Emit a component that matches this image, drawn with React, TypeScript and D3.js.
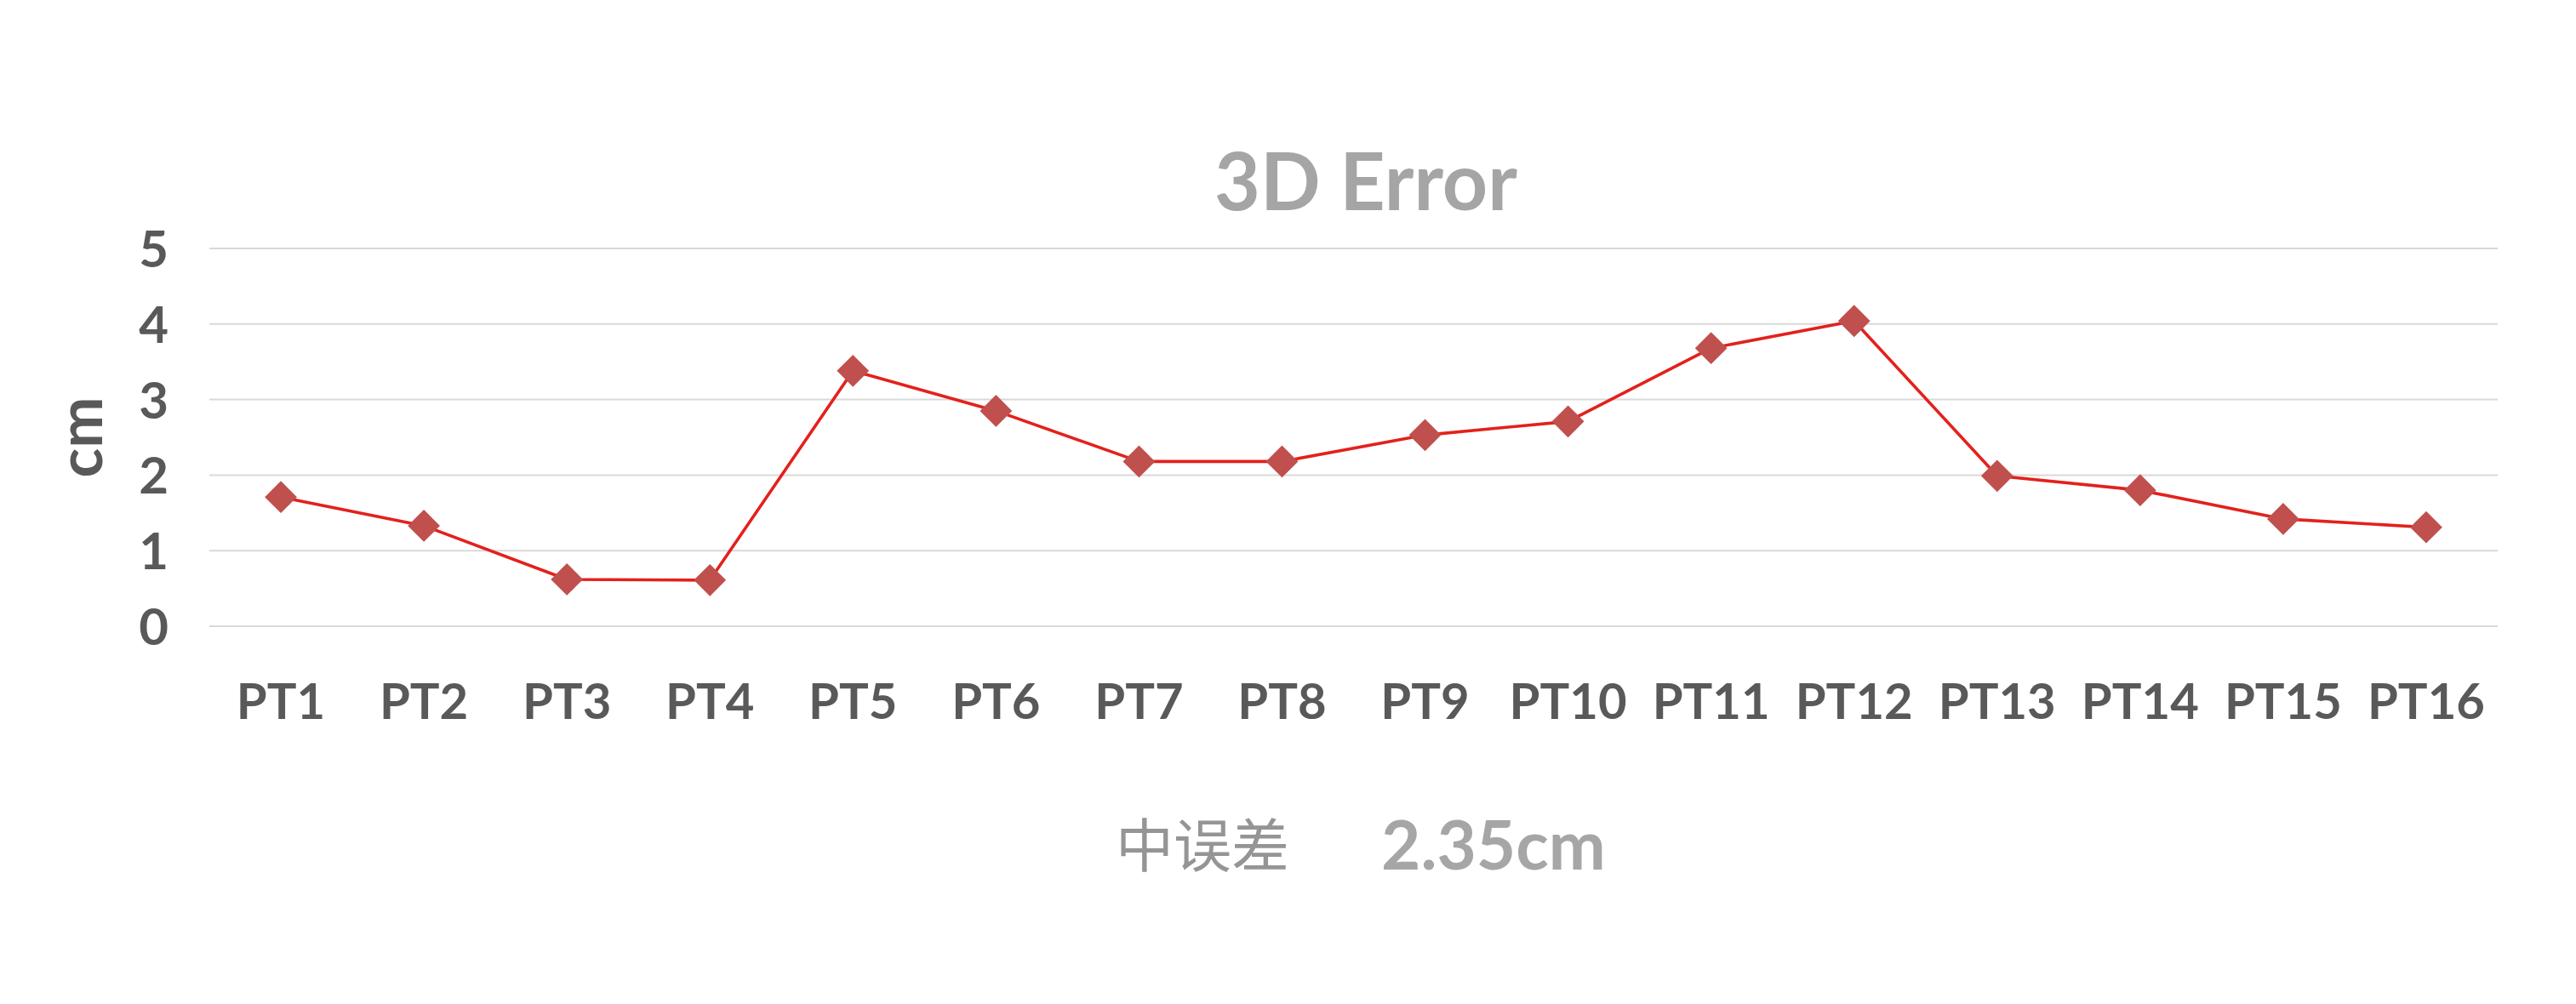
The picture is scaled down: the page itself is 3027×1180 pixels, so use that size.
import React from 'react';
import * as d3 from 'd3';

const categories = ['PT1', 'PT2', 'PT3', 'PT4', 'PT5', 'PT6', 'PT7', 'PT8', 'PT9', 'PT10', 'PT11', 'PT12', 'PT13', 'PT14', 'PT15', 'PT16'];
const errorValues = [1.71, 1.33, 0.62, 0.61, 3.38, 2.85, 2.18, 2.18, 2.53, 2.71, 3.68, 4.04, 1.99, 1.8, 1.42, 1.31];
const yTicks = [0, 1, 2, 3, 4, 5];
const titleText = '3D Error';
const yAxisTitle = 'cm';
const footerLabel = '中误差';
const footerValue = '2.35cm';

const W = 3027;
const H = 1180;
const latin = 'Lato, "Open Sans", sans-serif';
const cjk = '"Noto Sans CJK SC", sans-serif';

export default function App() {
  const x = d3.scaleBand<string>().domain(categories).range([246, 2935]);
  const y = d3.scaleLinear().domain([0, 5]).range([736, 292]);
  const cx = (c: string) => (x(c) ?? 0) + x.bandwidth() / 2;

  const points = categories.map((c, i) => [cx(c), y(errorValues[i])] as [number, number]);
  const linePath = d3.line()(points) ?? '';
  // rotated square, ~38px across
  const diamond = d3.symbol().type(d3.symbolSquare).size(715)() ?? '';

  return (
    <svg width={W} height={H} viewBox={`0 0 ${W} ${H}`}
      style={{ position: 'absolute', left: 0, top: 0, background: '#ffffff' }}>
      <rect width={W} height={H} fill="#ffffff" />

      {/* title */}
      <text x={1605} y={247} textAnchor="middle" fontFamily={latin} fontWeight={700}
        fontSize={93} fill="#a5a5a5">{titleText}</text>

      {/* grid + y ticks */}
      {yTicks.map(t => (
        <g key={t}>
          <line x1={246} x2={2935} y1={y(t)} y2={y(t)} stroke="#d9d9d9" strokeWidth={2} />
          <text x={198} y={y(t) + 22} textAnchor="end" fontFamily={latin} fontWeight={700}
            fontSize={60} fill="#595959">{t}</text>
        </g>
      ))}

      {/* y axis title */}
      <text transform={`translate(120,${y(2.5)}) rotate(-90)`} textAnchor="middle"
        fontFamily={latin} fontWeight={700} fontSize={72} fill="#595959">{yAxisTitle}</text>

      {/* x labels */}
      {categories.map(c => (
        <text key={c} x={cx(c)} y={845} textAnchor="middle" fontFamily={latin} fontWeight={700}
          fontSize={58} fill="#595959">{c}</text>
      ))}

      {/* series */}
      <path d={linePath} fill="none" stroke="#e3211c" strokeWidth={3.6} strokeLinejoin="round" />
      {points.map(([px, py], i) => (
        <path key={categories[i]} d={diamond} transform={`translate(${px},${py}) rotate(45)`}
          fill="#c0504d" />
      ))}

      {/* footer */}
      <text x={1311} y={1019} fontFamily={cjk} fontSize={68} fill="#959595">{footerLabel}</text>
      <text x={1623} y={1022} fontFamily={latin} fontWeight={700} fontSize={80}
        fill="#a6a6a6">{footerValue}</text>
    </svg>
  );
}
